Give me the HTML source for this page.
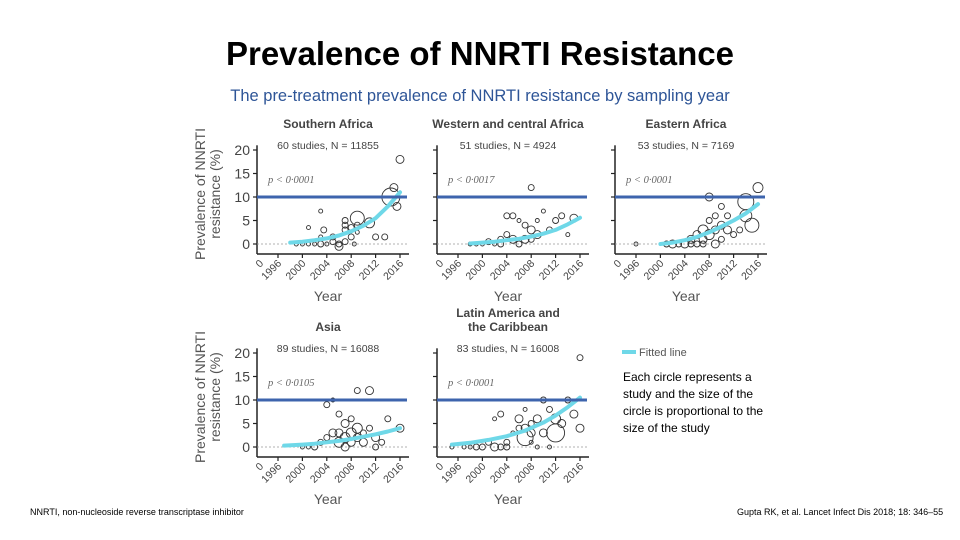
<!DOCTYPE html>
<html><head><meta charset="utf-8"><style>
body{margin:0;width:960px;height:540px;background:#fff;overflow:hidden;font-family:"Liberation Sans",sans-serif;}
svg{position:absolute;left:0;top:0}
</style></head><body>
<svg id="chart" width="960" height="540">
<text x="480" y="65" text-anchor="middle" font-size="33" font-weight="bold" fill="#000">Prevalence of NNRTI Resistance</text>
<text x="480" y="101" text-anchor="middle" font-size="16.5" fill="#2e5597">The pre-treatment prevalence of NNRTI resistance by sampling year</text>
<g>
<line x1="622" y1="352" x2="636" y2="352" stroke="#6fd8e8" stroke-width="4"/>
<text x="639" y="356" font-size="11" fill="#555">Fitted line</text>
</g>
<g font-size="12" fill="#000">
<text x="623" y="381">Each circle represents a</text>
<text x="623" y="398">study and the size of the</text>
<text x="623" y="415">circle is proportional to the</text>
<text x="623" y="432">size of the study</text>
</g>
<text x="30" y="515" font-size="9" fill="#000">NNRTI, non-nucleoside reverse transcriptase inhibitor</text>
<text x="737" y="515" font-size="9" fill="#000">Gupta RK, et al. Lancet Infect Dis 2018; 18: 346–55</text>
</svg>
<script>
const yTicks=[0,5,10,15,20];
const xTickLabels=["0","1996","2000","2004","2008","2012","2016"];
const threshold=10;
// Southern Africa
const saYears=[1999,2000,2001,2001,2002,2003,2003,2003.5,2003,2004,2005,2005,2006,2006,2007,2007,2007,2007,2008,2008,2008.5,2009,2009,2009,2011,2012,2013.5,2014.5,2015,2015.5,2016];
const saVals=[0,0,3.5,0,0,7,1.5,3,0,0,1.5,0.5,0,-0.5,0.5,3,5,4,3.5,1.5,0,5.5,4,2.5,4.5,1.5,1.5,10,12,8,18];
const saSize=[2,2,2,2,2,2,2,3,3,2,3,3,3,4,3,3,3,3,3,3,2,7,3,2,5,3,3,9,4,4,4];
const saFitY=[1998,2000,2002,2004,2006,2008,2010,2012,2014,2016];
const saFitV=[0.3,0.5,0.8,1.2,1.8,2.7,3.9,5.5,8,11];
// Western and central Africa
const wcYears=[1998,1999,2000,2001,2002,2003,2003,2004,2004,2005,2005,2006,2006,2007,2007,2008,2008,2008,2009,2009,2010,2011,2012,2013,2014,2015];
const wcVals=[0,0,0,0.5,0,1,0,6,2,6,1,5,0,4,1,12,3,1,5,2,7,3,5,6,2,5.5];
const wcSize=[2,2,2,3,2,3,3,3,3,3,4,2,3,3,4,3,4,3,2,4,2,3,3,3,2,4];
const wcFitY=[1998,2000,2002,2004,2006,2008,2010,2012,2014,2016];
const wcFitV=[0.1,0.3,0.5,0.8,1.1,1.6,2.2,3,4.2,5.6];
// Eastern Africa
const eaYears=[1996,2001,2002,2003,2004,2005,2005,2006,2006,2007,2007,2007,2008,2008,2008,2009,2009,2009,2010,2010,2010,2011,2011,2012,2013,2014,2014,2015,2016];
const eaVals=[0,0,0,0,0,1,0,2,0,3,1,0,10,5,2,6,3,0,8,4,1,6,3,2,3,6,9,4,12];
const eaSize=[2,3,4,3,4,4,3,4,3,5,4,3,4,3,5,3,4,4,3,4,3,3,4,3,3,6,8,7,5];
const eaFitY=[2000,2002,2004,2006,2008,2010,2012,2014,2016];
const eaFitV=[0,0.3,0.8,1.5,2.5,3.7,5,6.5,8.5];
// Asia
const asYears=[2000,2001,2002,2003,2004,2004,2005,2005,2006,2006,2006,2007,2007,2007,2008,2008,2008,2009,2009,2009,2010,2010,2011,2011,2012,2012,2013,2014,2016];
const asVals=[0,0,0,1,2,9,10,3,1,7,3,2,5,0,3,1,6,12,4,2,3,1,4,12,2,0,1,6,4];
const asSize=[2,2,3,3,3,3,2,4,5,3,4,5,4,4,5,4,3,3,5,4,3,4,3,4,4,3,3,3,4];
const asFitY=[1997,2000,2002,2004,2006,2008,2010,2012,2014,2016];
const asFitV=[0.3,0.5,0.7,1,1.3,1.7,2.2,2.7,3.3,4];
// Latin America and the Caribbean
const laYears=[1995,1997,1998,1999,2000,2001,2002,2002,2003,2003,2004,2004,2005,2006,2006,2007,2007,2007,2008,2008,2008,2009,2009,2010,2010,2011,2011,2012,2012,2013,2014,2015,2016,2016];
const laVals=[0,0,0,0,0,1,0,6,7,0,0,1,3,6,4,2,8,4,5,1,3,6,0,10,3,8,0,6,3,5,10,7,4,19];
const laSize=[2,2,2,3,3,3,4,2,3,3,3,3,2,4,3,8,2,4,3,2,4,4,2,3,4,3,2,5,9,4,3,4,4,3];
const laFitY=[1995,1998,2001,2004,2007,2010,2012,2014,2016];
const laFitV=[0.5,0.9,1.5,2.3,3.5,5.2,6.7,8.5,10.5];

const panels=[
 {name:"southern-africa",ax:257,y0:244,t:["Southern Africa"],sub:"60 studies, N = 11855",p:"p < 0·0001",lbl:true,yr:saYears,v:saVals,s:saSize,fy:saFitY,fv:saFitV},
 {name:"western-central-africa",ax:437,y0:244,t:["Western and central Africa"],sub:"51 studies, N = 4924",p:"p < 0·0017",lbl:false,yr:wcYears,v:wcVals,s:wcSize,fy:wcFitY,fv:wcFitV},
 {name:"eastern-africa",ax:615,y0:244,t:["Eastern Africa"],sub:"53 studies, N = 7169",p:"p < 0·0001",lbl:false,yr:eaYears,v:eaVals,s:eaSize,fy:eaFitY,fv:eaFitV},
 {name:"asia",ax:257,y0:447,t:["Asia"],sub:"89 studies, N = 16088",p:"p < 0·0105",lbl:true,yr:asYears,v:asVals,s:asSize,fy:asFitY,fv:asFitV},
 {name:"latin-america",ax:437,y0:447,t:["Latin America and","the Caribbean"],sub:"83 studies, N = 16008",p:"p < 0·0001",lbl:false,yr:laYears,v:laVals,s:laSize,fy:laFitY,fv:laFitV}
];
const NS="http://www.w3.org/2000/svg";
const svg=document.getElementById('chart');
function mk(tag,attrs,parent,txt){const e=document.createElementNS(NS,tag);for(const k in attrs)e.setAttribute(k,attrs[k]);if(txt!==undefined)e.textContent=txt;parent.appendChild(e);return e;}
panels.forEach(P=>{
 const g=mk('g',{},svg);
 
 
 const ys=v=>P.y0-v*4.7;
 const xs=y=>P.ax+21+(y-1996)*6.1;
 const right=P.ax+152;
 const tTop=P.y0-116-(P.t.length-1)*14;
 P.t.forEach((t,i)=>{const e=mk('text',{x:P.ax+71,y:tTop+i*14,'text-anchor':'middle','font-size':12,'font-weight':'bold',fill:'#444'},g,t);
  });
 const st=mk('text',{x:P.ax+71,y:P.y0-95,'text-anchor':'middle','font-size':10.5,fill:'#444'},g,P.sub);
 
 const pt=mk('text',{x:P.ax+11,y:ys(13),'font-size':10.5,'font-style':'italic',fill:'#666','font-family':'Liberation Serif, serif'},g,P.p);
 
 mk('line',{x1:P.ax,y1:ys(21),x2:P.ax,y2:P.y0+10,stroke:'#222','stroke-width':1.5},g);
 mk('line',{x1:P.ax,y1:P.y0+10,x2:right,y2:P.y0+10,stroke:'#222','stroke-width':1.5},g);
 mk('line',{x1:P.ax,y1:P.y0,x2:right,y2:P.y0,stroke:'#999','stroke-width':0.8,'stroke-dasharray':'2,2'},g);
 yTicks.forEach(t=>{mk('line',{x1:P.ax-4,y1:ys(t),x2:P.ax,y2:ys(t),stroke:'#222','stroke-width':1.2},g);
  if(P.lbl){const e=mk('text',{x:P.ax-7,y:ys(t)+5,'text-anchor':'end','font-size':14,fill:'#444'},g,String(t));
   }});
 xTickLabels.forEach((l,i)=>{const x=i===0?P.ax+3:xs(1992+4*i);
  if(i>0)mk('line',{x1:x,y1:P.y0+10,x2:x,y2:P.y0+14,stroke:'#222','stroke-width':1.2},g);
  const e=mk('text',{x:x+4,y:P.y0+20,'text-anchor':'end','font-size':10.5,fill:'#444',transform:`rotate(-45 ${x+4} ${P.y0+20})`},g,l);
  });
 const yl=mk('text',{x:P.ax+71,y:P.y0+57,'text-anchor':'middle','font-size':14,fill:'#555'},g,'Year');
 
 if(P.lbl){const cx=P.ax-52,cy=P.y0-50;
  const a=mk('text',{x:cx,y:cy,'text-anchor':'middle','font-size':14,fill:'#555',transform:`rotate(-90 ${cx} ${cy})`},g,'Prevalence of NNRTI');
  
  const b=mk('text',{x:cx+15,y:cy,'text-anchor':'middle','font-size':14,fill:'#555',transform:`rotate(-90 ${cx+15} ${cy})`},g,'resistance (%)');
  }
 P.yr.forEach((y,i)=>{const c=mk('circle',{cx:xs(y),cy:ys(P.v[i]),r:P.s[i],fill:'none',stroke:'#333','stroke-width':0.9},g);
  });
 const d=P.fy.map((y,i)=>(i?'L':'M')+xs(y).toFixed(1)+','+ys(P.fv[i]).toFixed(1)).join(' ');
 const f=mk('path',{d:d,fill:'none',stroke:'#6fd8e8','stroke-width':4,'stroke-linecap':'round','stroke-linejoin':'round'},g);
 
 const th=mk('line',{x1:P.ax,y1:ys(threshold),x2:right-2,y2:ys(threshold),stroke:'#3e64ad','stroke-width':3},g);
 
});
</script>
</body></html>
